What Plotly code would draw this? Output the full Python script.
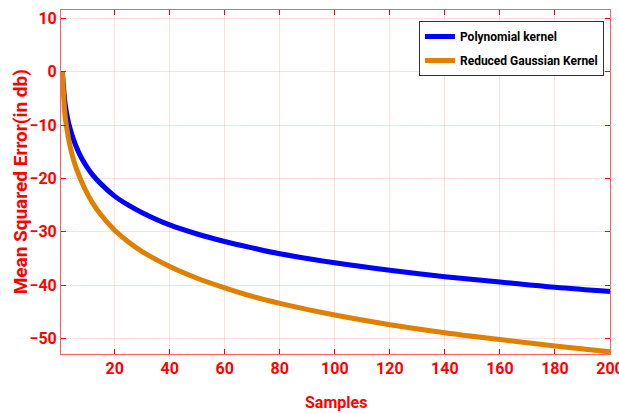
import plotly.graph_objects as go

samples = [1, 2, 3, 4, 5, 6, 8, 10, 12, 15, 20, 25, 30, 40, 50, 60, 70, 80, 100, 120, 140, 160, 180, 200]
poly_mse = [0, -6.0, -9.0, -11.0, -12.6, -14.0, -16.2, -17.9, -19.3, -21.0, -23.3, -25.0, -26.4,
            -28.7, -30.4, -31.8, -33.0, -34.1, -35.8, -37.2, -38.4, -39.4, -40.4, -41.2]
rgk_mse = [0, -8.3, -11.8, -14.4, -16.4, -18.0, -20.6, -22.8, -24.6, -26.8, -29.7, -31.9, -33.7,
           -36.5, -38.7, -40.5, -42.1, -43.4, -45.6, -47.4, -48.9, -50.2, -51.4, -52.5]
x_ticks = [20, 40, 60, 80, 100, 120, 140, 160, 180, 200]
y_ticks = [-50, -40, -30, -20, -10, 0, 10]

FONT = "Roboto, Open Sans, sans-serif"
RED = "#ff0000"

def f(size, color=RED):
    return dict(family=FONT, size=size, color=color, weight="bold")

fig = go.Figure()
fig.add_trace(go.Scatter(x=samples, y=poly_mse, mode="lines", name="Polynomial kernel",
                         legendgroup="a",
                         line=dict(color="#0000ff", width=5, shape="spline")))
fig.add_trace(go.Scatter(x=samples, y=rgk_mse, mode="lines", name="Reduced Gaussian Kernel",
                         legendgroup="b",
                         line=dict(color="#e08000", width=5, shape="spline")))

axis_common = dict(
    showline=True, linecolor="#ff6060", linewidth=1, mirror="ticks",
    ticks="inside", ticklen=5, tickcolor=RED, tickwidth=1,
    showgrid=True, gridcolor="rgba(255,0,0,0.13)", gridwidth=1,
    zeroline=False, ticklabeloverflow="allow", automargin=False,
    tickfont=f(16),
)

fig.update_layout(
    width=619, height=414,
    margin=dict(l=61, r=9, t=10, b=60),
    paper_bgcolor="white", plot_bgcolor="white",
    showlegend=True,
    legend=dict(x=0.989, y=0.968, xanchor="right", yanchor="top",
                bgcolor="white", bordercolor="#333333", borderwidth=1,
                font=f(12, "black"),
                itemwidth=30, tracegroupgap=5),
    xaxis=dict(range=[0.5, 200], tickvals=x_ticks, **axis_common),
    yaxis=dict(range=[-52.9, 11.6], tickvals=y_ticks, **axis_common),
    annotations=[
        dict(text="Samples", xref="paper", yref="paper", x=0.5, y=-0.1424,
             xanchor="center", yanchor="middle", showarrow=False, font=f(16)),
        dict(text="Mean Squared Error(in db)", xref="paper", yref="paper",
             x=-0.074, y=0.5, xanchor="center", yanchor="middle", textangle=-90,
             showarrow=False, font=f(19)),
    ],
)

fig.write_html("out.html")
